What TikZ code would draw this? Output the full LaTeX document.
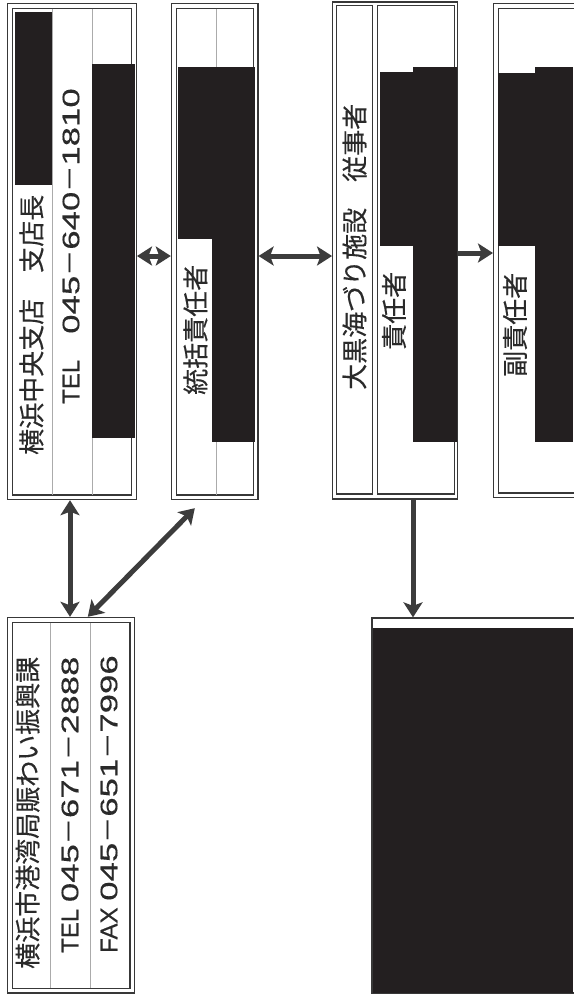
\documentclass[tikz,border=0pt]{standalone}
\usepackage{fontspec}
\usetikzlibrary{arrows.meta,calc}
\newfontfamily\jpf[FakeBold=0.3]{Noto Sans CJK JP}
\newfontfamily\latf[FakeBold=0.3]{Liberation Sans}
\newfontfamily\latwf[FakeStretch=1.45,FakeBold=0.3]{Liberation Sans}
\definecolor{inkc}{HTML}{2A2A2A}
\definecolor{bord}{HTML}{383838}
\definecolor{redact}{HTML}{231F20}
\definecolor{divc}{HTML}{ABABAB}
\definecolor{arrc}{HTML}{3C3C3C}
\newcommand\jpx[1]{{\fontsize{26}{30}\selectfont\jpf #1}}
\newcommand\dgx[1]{{\fontsize{24}{28}\selectfont\latwf #1}}
\newcommand\ltx[1]{{\fontsize{24}{28}\selectfont\latf #1}}
\newcommand\dshx{\jpx{－}}
\begin{document}
\begin{tikzpicture}[x=1pt,y=-1pt,
  frame/.style={draw=bord, line width=1.3pt, double=white, double distance=3.4pt, rectangle, inner sep=0pt, outer sep=3pt},
  single/.style={draw=bord, line width=1.3pt, rectangle, inner sep=0pt, outer sep=0.65pt},
  txt/.style={rotate=90, anchor=west, inner sep=0pt, text=inkc},
  tipx/.tip={Stealth[length=15pt,width=19pt,inset=3.5pt]},
  dblarrow/.style={draw=arrc, line width=5pt, tipx-tipx},
  onearrow/.style={draw=arrc, line width=5pt, -tipx},
  divl/.style={draw=divc, line width=0.8pt},
  redbox/.style={fill=redact}]
\useasboundingbox (0,0) rectangle (573,996);
\fill[white] (0,0) rectangle (573,996);

% boxes
\node[frame, minimum width=124.2pt, minimum height=491.4pt] (box1) at (71.9,251.5) {};
\node[frame, minimum width=81.8pt, minimum height=491.4pt] (box2) at (214.7,251.5) {};
\node[single, minimum width=125pt, minimum height=497pt] (box3) at (395.2,250.5) {};
\node[single, minimum width=36pt, minimum height=488.5pt] (box3a) at (354.7,249.75) {};
\node[single, minimum width=76.6pt, minimum height=488.5pt] (box3b) at (416,249.75) {};
\node[frame, minimum width=124pt, minimum height=489.5pt] (box4) at (558,250.55) {};
\node[frame, minimum width=122.4pt, minimum height=370.7pt] (box5) at (71,805.15) {};
\node[single, minimum width=268pt, minimum height=375pt] (box6) at (506,805.5) {};

% dividers
\draw[divl] (52,8.5) -- (52,494.5);
\draw[divl] (92,8.5) -- (92,494.5);
\draw[divl] (216,8.5) -- (216,494.5);
\draw[divl] (50.5,622.5) -- (50.5,987.5);
\draw[divl] (90.5,622.5) -- (90.5,987.5);

% redactions
\fill[redbox] (15,12) rectangle (52,185);
\fill[redbox] (92,64) rectangle (135,438);
\fill[redbox] (178,67) rectangle (255,239);
\fill[redbox] (212,67) rectangle (255,442);
\fill[redbox] (380,72) rectangle (457,246);
\fill[redbox] (413,67) rectangle (457,442);
\fill[redbox] (498,73) rectangle (573,246);
\fill[redbox] (535,67) rectangle (573,442);
\fill[redbox] (372.6,628) rectangle (573,993);

% texts
\node[txt] (t1) at (31.5,455) {\jpx{横浜中央支店　支店長}};
\node[txt] (t2) at (71,404) {\ltx{TEL}\jpx{　}\dgx{045}\dshx\dgx{640}\dshx\dgx{1810}};
\node[txt] (t3) at (195.5,395) {\jpx{統括責任者}};
\node[txt] (t4) at (354.5,390) {\jpx{大黒海づり施設　従事者}};
\node[txt] (t5) at (394,350) {\jpx{責任者}};
\node[txt] (t6) at (515,377) {\jpx{副責任者}};
\node[txt] (t7) at (27.5,969) {\jpx{横浜市港湾局賑わい振興課}};
\node[txt] (t8) at (70,953) {\ltx{TEL }\dgx{045}\dshx\dgx{671}\dshx\dgx{2888}};
\node[txt] (t9) at (109,953) {\ltx{FAX }\dgx{045}\dshx\dgx{651}\dshx\dgx{7996}};

% connectors
\coordinate (rowa) at (0,256);
\coordinate (rowb) at (0,253);
\coordinate (colv) at (70,0);
\coordinate (cold) at (413,0);
\draw[dblarrow] (box1.east |- rowa) -- (box2.west |- rowa);
\draw[dblarrow] (box2.east |- rowa) -- (box3.west |- rowa);
\draw[onearrow] (box3.east |- rowb) -- (box4.west |- rowb);
\draw[dblarrow] (box1.south -| colv) -- (box5.north -| colv);
\draw[dblarrow] ($(box5.north west)+(81,0)$) -- ($(box2.south west)+(24,8)$);
\draw[onearrow] (box3.south -| cold) -- (box6.north -| cold);
\end{tikzpicture}
\end{document}
